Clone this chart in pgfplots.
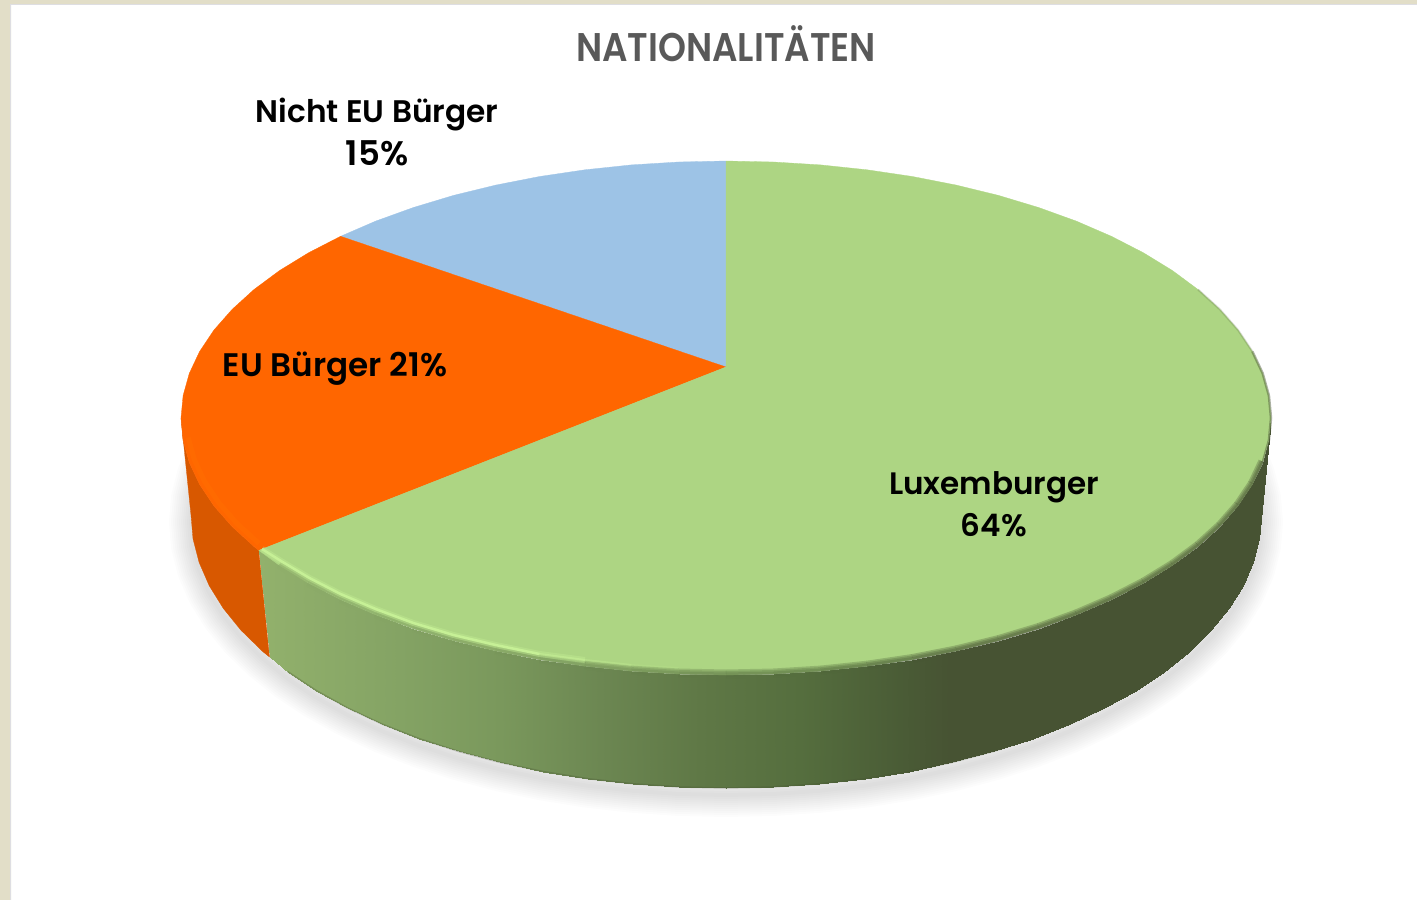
\documentclass[border=0pt]{standalone}
\usepackage{fontspec}
\setmainfont{Poppins}
\newfontfamily\semifont{Poppins SemiBold}
\usepackage{pgfplots}
\usepackage{pgfplotstable}
\pgfplotsset{compat=1.18}
\definecolor{framebeige}{RGB}{226,222,200}
\definecolor{frameline}{RGB}{222,222,226}
\definecolor{lux}{RGB}{173,213,131}
\definecolor{eu}{RGB}{255,102,0}
\definecolor{noneu}{RGB}{157,195,230}
\definecolor{euside}{RGB}{216,88,0}
\definecolor{titlegray}{RGB}{89,89,89}
\definecolor{rimlight}{RGB}{198,240,150}
\definecolor{rimdark}{RGB}{71,83,51}

% slice outlines in picture pixels; t = angle on the ellipse, 999 = pie centre
\pgfplotstableread{
t x y
999 726 367
-90 726 161
-85 773.5 162
-80 820.6 164.9
-75 867.1 169.8
-70 912.4 176.5
-65 956.3 185.1
-60 998.5 195.4
-55 1038.6 207.5
-50 1076.3 221.1
-45 1111.4 236.3
-40 1143.5 252.8
-35 1172.5 270.6
-30 1198 289.5
-25 1219.9 309.4
-20 1238.1 330.1
-15 1252.4 351.5
-10 1262.7 373.4
-5 1268.9 395.6
0 1271 418
5 1268.9 440.4
10 1262.7 462.6
15 1252.4 484.5
20 1238.1 505.9
25 1219.9 526.6
30 1198 546.5
35 1172.5 565.4
40 1143.5 583.2
45 1111.4 599.7
50 1076.3 614.9
55 1038.6 628.5
60 998.5 640.6
65 956.3 650.9
70 912.4 659.5
75 867.1 666.2
80 820.6 671.1
85 773.5 674
90 726 675
95 678.5 674
100 631.4 671.1
105 584.9 666.2
110 539.6 659.5
115 495.7 650.9
120 453.5 640.6
125 413.4 628.5
130 375.7 614.9
135 340.6 599.7
140 308.5 583.2
145 279.5 565.4
149 258.8 550.4
}\luxslice
\pgfplotstableread{
t x y
999 726 367
149 258.8 550.4
150 254 546.5
155 232.1 526.6
160 213.9 505.9
165 199.6 484.5
170 189.3 462.6
175 183.1 440.4
180 181 418
185 183.1 395.6
190 189.3 373.4
195 199.6 351.5
200 213.9 330.1
205 232.1 309.4
210 254 289.5
215 279.5 270.6
220 308.5 252.8
225 340.6 236.3
}\euslice
\pgfplotstableread{
t x y
999 726 367
225 340.6 236.3
230 375.7 221.1
235 413.4 207.5
240 453.5 195.4
245 495.7 185.1
250 539.6 176.5
255 584.9 169.8
260 631.4 164.9
265 678.5 162
270 726 161
}\noneuslice

% side wall: top edge and bottom edge pairs
\pgfplotstableread{
x y
1271 418
1261 515
1268.9 440.4
1259 538.8
1262.7 462.6
1252.9 562.4
1252.4 484.5
1242.8 585.7
1238.1 505.9
1228.7 608.4
1219.9 526.6
1210.9 630.4
1198 546.5
1189.3 651.5
1172.5 565.4
1164.3 671.6
1143.5 583.2
1135.8 690.5
1111.4 599.7
1104.3 708
1076.3 614.9
1069.9 724.1
1038.6 628.5
1032.9 738.6
998.5 640.6
993.5 751.4
956.3 650.9
952.1 762.4
912.4 659.5
909 771.5
867.1 666.2
864.5 778.7
820.6 671.1
818.9 783.8
773.5 674
772.7 787
726 675
726 788
678.5 674
679.3 787
631.4 671.1
633.1 783.8
584.9 666.2
587.5 778.7
539.6 659.5
543 771.5
495.7 650.9
499.9 762.4
453.5 640.6
458.5 751.4
413.4 628.5
419.1 738.6
375.7 614.9
382.1 724.1
340.6 599.7
347.7 708
308.5 583.2
316.2 690.5
279.5 565.4
289 673
258.8 550.4
269.5 657
}\luxside
\pgfplotstableread{
x y
258.8 550.4
254 546.5
232.1 526.6
213.9 505.9
199.6 484.5
189.3 462.6
183.1 440.4
181 418
191 515
193 538.8
199.1 562.4
209.2 585.7
223.3 608.4
241.1 630.4
262.7 651.5
269.5 657
}\euside

% bottom edge, also used for the soft shadow
\pgfplotstableread{
t x y
-15 1242.8 444.3
-10 1252.9 467.6
-5 1259 491.2
0 1261 515
5 1259 538.8
10 1252.9 562.4
15 1242.8 585.7
20 1228.7 608.4
25 1210.9 630.4
30 1189.3 651.5
35 1164.3 671.6
40 1135.8 690.5
45 1104.3 708
50 1069.9 724.1
55 1032.9 738.6
60 993.5 751.4
65 952.1 762.4
70 909 771.5
75 864.5 778.7
80 818.9 783.8
85 772.7 787
90 726 788
95 679.3 787
100 633.1 783.8
105 587.5 778.7
110 543 771.5
115 499.9 762.4
120 458.5 751.4
125 419.1 738.6
130 382.1 724.1
135 347.7 708
140 316.2 690.5
145 287.7 671.6
150 262.7 651.5
155 241.1 630.4
160 223.3 608.4
165 209.2 585.7
170 199.1 562.4
175 193 538.8
180 191 515
185 193 491.2
190 199.1 467.6
195 209.2 444.3
}\bottomedge

\begin{document}
\begin{tikzpicture}
\begin{axis}[
  width=1417pt, height=900pt,
  scale only axis,
  xmin=0, xmax=1417, ymin=0, ymax=900,
  y dir=reverse,
  axis lines=none,
  point meta min=259, point meta max=1271,
  colormap={side}{rgb255(0pt)=(146,177,108); rgb255(141pt)=(132,163,100); rgb255(241pt)=(122,152,92);
    rgb255(341pt)=(108,135,82); rgb255(441pt)=(95,120,70); rgb255(541pt)=(85,110,62);
    rgb255(641pt)=(74,92,54); rgb255(691pt)=(71,83,51); rgb255(1012pt)=(71,83,51)},
]
% page frame
\addplot[fill=framebeige, draw=none] coordinates {(0,0)(1417,0)(1417,4)(11,4)(11,900)(0,900)} -- cycle;
\addplot[frameline, line width=1.5pt] coordinates {(10.5,900)(10.5,4.5)(1417,4.5)};

% shadow
\pgfplotsinvokeforeach{4,8,...,44}{
  \addplot[draw=black, opacity=0.011, line width=#1pt, line join=round]
    table[x=x, y expr=\thisrow{y}+7] {\bottomedge} -- cycle;
}

% side wall
\addplot[fill=euside, draw=euside, line width=0.3pt] table[x=x, y=y] {\euside} -- cycle;
\addplot[surf, shader=interp, mesh/cols=2, point meta=x] table[x=x, y=y] {\luxside};
\addplot[color=rimdark, opacity=0.3, line width=1.5pt]
  table[x=x, y=y, restrict expr to domain={\thisrow{t}}{30:145}] {\bottomedge};

% top face
\addplot[fill=noneu, draw=noneu, line width=0.3pt] table[x=x, y=y] {\noneuslice} -- cycle;
\addplot[fill=eu, draw=eu, line width=0.3pt] table[x=x, y=y] {\euslice} -- cycle;
\addplot[fill=lux, draw=lux, line width=0.3pt] table[x=x, y=y] {\luxslice} -- cycle;

% soft bevel of the rim, taking the colour of the wall below it
\pgfplotsinvokeforeach{9,6,3}{
  \addplot[mesh, point meta=x, opacity=0.3, line width=#1pt]
    table[x=x, y expr=\thisrow{y}-1, restrict expr to domain={\thisrow{t}}{8:145}] {\luxslice};
}
\addplot[color=rimdark, opacity=0.45, line width=2.5pt]
  table[x=x, y=y, restrict expr to domain={\thisrow{t}}{-15:12}] {\luxslice};
\addplot[color=rimdark, opacity=0.2, line width=2pt]
  table[x=x, y=y, restrict expr to domain={\thisrow{t}}{-30:-15}] {\luxslice};

% light highlight along the front edge
\addplot[color=rimlight, opacity=0.35, line width=6pt]
  coordinates {(262,549)(281,561)(309.5,578)(340.6,594)(375.7,609)(413.4,623)(453.5,635)(495.7,645)(539.6,654)(584.9,660)};
\addplot[color=rimlight, line width=2.5pt]
  coordinates {(262,549)(281,561)(309.5,578)(340.6,594)(375.7,609)(413.4,623)(453.5,635)(495.7,645)(539.6,654)};
\addplot[color=rimlight, opacity=0.6, line width=2pt]
  coordinates {(539.6,654)(584.9,660)};
\addplot[color=rimlight, opacity=0.35, line width=2pt]
  coordinates {(584.9,660)(631.4,665)};
\addplot[color=rimlight, opacity=0.15, line width=2pt]
  coordinates {(631.4,665)(678.5,668)};
\addplot[color=orange!25!eu, line width=5pt, opacity=0.7]
  table[x expr=\thisrow{x}+5, y expr=\thisrow{y}-3, restrict expr to domain={\thisrow{t}}{150:178}] {\euslice};

% labels
\node[titlegray] at (axis cs:726,44) {\scalebox{0.89}[1]{\semifont\fontsize{40}{40}\selectfont NATIONALITÄTEN}};
\node[font=\semifont\fontsize{31.2}{32}\selectfont] at (axis cs:377,115) {Nicht EU Bürger};
\node[font=\semifont\fontsize{34}{34}\selectfont] at (axis cs:377,153) {15\%};
\node[font=\semifont\fontsize{32.6}{33}\selectfont] at (axis cs:335,369) {EU Bürger 21\%};
\node[font=\semifont\fontsize{31}{31}\selectfont] at (axis cs:994,487) {Luxemburger};
\node[font=\semifont\fontsize{31}{31}\selectfont] at (axis cs:994,525) {64\%};
\end{axis}
\end{tikzpicture}
\end{document}
